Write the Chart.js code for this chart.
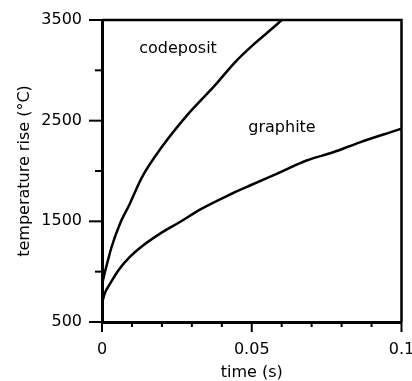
<!DOCTYPE html>
<html>
<head>
<meta charset="utf-8">
<script src="https://cdn.jsdelivr.net/npm/chart.js@4.4.0/dist/chart.umd.min.js"></script>
<style>
  html, body { margin: 0; padding: 0; background: #fff; }
  #wrap { width: 412px; height: 381px; }
</style>
</head>
<body>
<div id="wrap"><canvas id="grafico"></canvas></div>
<script>
// --- DADOS ---
const codepositTime = [0, 0.001, 0.0021, 0.0032, 0.006, 0.0093, 0.0132, 0.0199, 0.0283, 0.0377, 0.0444, 0.0511, 0.0578, 0.06];
const codepositTemp = [870, 1000, 1125, 1245, 1477, 1675, 1930, 2235, 2550, 2850, 3080, 3270, 3440, 3500];

const graphiteTime = [0, 0.001, 0.0027, 0.0038, 0.0055, 0.0093, 0.0138, 0.0194, 0.026, 0.0327, 0.0433, 0.0494, 0.0583, 0.0683, 0.0772, 0.0861, 0.0962, 0.1];
const graphiteTemp = [690, 790, 880, 935, 1015, 1146, 1262, 1378, 1493, 1616, 1774, 1856, 1972, 2104, 2186, 2285, 2384, 2420];

const xTickLabels = [0, 0.05, 0.1];
const xMinorTicks = [0.01, 0.02, 0.03, 0.04, 0.06, 0.07, 0.08, 0.09];
const yTickLabels = [500, 1500, 2500, 3500];
const yMinorTicks = [1000, 2000, 3000];

// rótulos das curvas: [texto, tempo, temperatura]
const curveLabels = [
    ['codeposit', 0.0254, 3213],
    ['graphite', 0.0601, 2431]
];

const FONT = "'DejaVu Sans', 'Liberation Sans', Arial, sans-serif";

function toPoints(xs, ys) {
    return xs.map((x, i) => ({ x, y: ys[i] }));
}

// desenha ticks, moldura e rótulos das curvas
const extrasPlugin = {
    id: 'extras',
    afterDraw(chart) {
        const { ctx, chartArea, scales } = chart;
        const xs = scales.x, ys = scales.y;
        ctx.save();
        ctx.strokeStyle = '#000';
        ctx.lineWidth = 2;

        // ticks eixo y (para fora)
        yTickLabels.forEach(v => {
            const py = ys.getPixelForValue(v);
            ctx.beginPath(); ctx.moveTo(chartArea.left - 13, py); ctx.lineTo(chartArea.left, py); ctx.stroke();
        });
        yMinorTicks.forEach(v => {
            const py = ys.getPixelForValue(v);
            ctx.beginPath(); ctx.moveTo(chartArea.left - 7, py); ctx.lineTo(chartArea.left, py); ctx.stroke();
        });
        // ticks eixo x (para baixo)
        xTickLabels.forEach(v => {
            const px = xs.getPixelForValue(v);
            ctx.beginPath(); ctx.moveTo(px, chartArea.bottom); ctx.lineTo(px, chartArea.bottom + 10); ctx.stroke();
        });
        xMinorTicks.forEach(v => {
            const px = xs.getPixelForValue(v);
            ctx.beginPath(); ctx.moveTo(px, chartArea.bottom); ctx.lineTo(px, chartArea.bottom + 5); ctx.stroke();
        });

        // moldura superior e direita
        ctx.lineWidth = 2.5;
        ctx.beginPath();
        ctx.moveTo(chartArea.left, chartArea.top);
        ctx.lineTo(chartArea.right, chartArea.top);
        ctx.lineTo(chartArea.right, chartArea.bottom);
        ctx.stroke();

        // rótulos
        ctx.fillStyle = '#000';
        ctx.font = '16px ' + FONT;
        ctx.textAlign = 'center';
        ctx.textBaseline = 'middle';
        curveLabels.forEach(([txt, t, v]) => {
            ctx.fillText(txt, xs.getPixelForValue(t), ys.getPixelForValue(v));
        });
        ctx.restore();
    }
};

const lineStyle = {
    borderColor: '#000',
    borderWidth: 2.5,
    pointRadius: 0,
    showLine: true,
    fill: false,
    cubicInterpolationMode: 'monotone'
};

new Chart(document.getElementById('grafico'), {
    type: 'scatter',
    data: {
        datasets: [
            { label: 'codeposit', data: toPoints(codepositTime, codepositTemp), ...lineStyle },
            { label: 'graphite', data: toPoints(graphiteTime, graphiteTemp), ...lineStyle }
        ]
    },
    options: {
        responsive: true,
        maintainAspectRatio: false,
        animation: false,
        layout: { padding: { top: 20, right: 10.5, left: 0, bottom: 0 } },
        plugins: { legend: { display: false }, tooltip: { enabled: false } },
        scales: {
            x: {
                type: 'linear',
                min: 0,
                max: 0.1,
                afterBuildTicks: s => { s.ticks = xTickLabels.map(v => ({ value: v })); },
                afterFit: s => { s.height = 59; s.paddingLeft = 0; s.paddingRight = 0; },
                grid: { display: false, drawTicks: false },
                border: { display: true, color: '#000', width: 3 },
                ticks: {
                    color: '#000',
                    font: { family: FONT, size: 16 },
                    padding: 18,
                    maxRotation: 0,
                    callback: v => String(v)
                },
                title: {
                    display: true,
                    text: 'time (s)',
                    color: '#000',
                    font: { family: FONT, size: 16, lineHeight: 1 },
                    padding: { top: 0, bottom: 0 }
                }
            },
            y: {
                type: 'linear',
                min: 500,
                max: 3500,
                afterBuildTicks: s => { s.ticks = yTickLabels.map(v => ({ value: v })); },
                afterFit: s => { s.width = 102; s.paddingTop = 0; s.paddingBottom = 0; },
                grid: { display: false, drawTicks: false },
                border: { display: true, color: '#000', width: 3 },
                ticks: {
                    color: '#000',
                    font: { family: FONT, size: 16 },
                    padding: 20,
                    callback: v => String(v)
                },
                title: {
                    display: true,
                    text: 'temperature rise (°C)',
                    color: '#000',
                    font: { family: FONT, size: 16, lineHeight: 1.2 },
                    padding: { top: 15, bottom: 0 }
                }
            }
        }
    },
    plugins: [extrasPlugin]
});
</script>
</body>
</html>
